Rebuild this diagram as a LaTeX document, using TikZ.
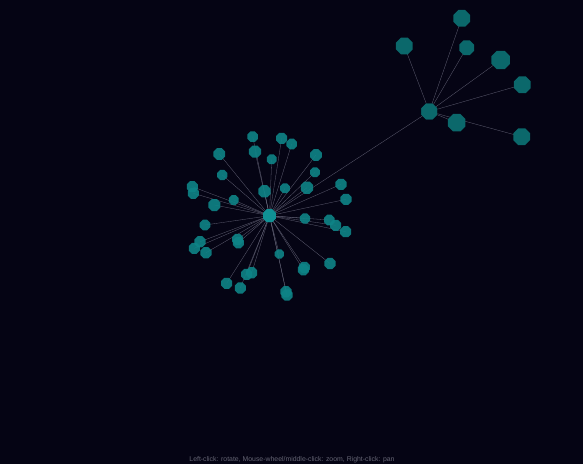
\documentclass[tikz,border=0pt]{standalone}
\usepackage{fontspec}
\setmainfont{Liberation Sans}
\usetikzlibrary{shapes.geometric}
\definecolor{bg}{RGB}{5,4,20}
\definecolor{nodeA}{RGB}{14,132,135}
\definecolor{nodeB}{RGB}{11,104,107}
\definecolor{hubA}{RGB}{16,145,148}
\definecolor{edgec}{RGB}{120,120,140}
\definecolor{txt}{RGB}{100,100,115}
\tikzset{
  vert/.style={regular polygon, regular polygon sides=8, inner sep=0pt, draw=none, fill=nodeA, fill opacity=0.9},
  vertB/.style={regular polygon, regular polygon sides=8, inner sep=0pt, draw=none, fill=nodeB},
  link/.style={draw=edgec, line width=0.3pt, opacity=0.8},
  hint/.style={text=txt, font=\fontsize{6.9}{7}\selectfont, inner sep=0pt}
}
\begin{document}
\begin{tikzpicture}[x=1pt,y=-1pt]
\fill[bg] (0,0) rectangle (583,464);
\useasboundingbox (0,0) rectangle (583,464);
% hubs
\node[vert, fill=hubA, minimum size=14pt] (h1) at (269.5,215.7) {};
\node[vertB, minimum size=17pt] (h2) at (429.3,111.5) {};
% cluster nodes
\foreach \n/\x/\y/\r in {
 1/252.7/136.7/5.7, 2/281.7/138.3/6, 3/291.7/144/5.7, 4/219.3/154/6.3,
 5/255/151.7/6.5, 6/271.7/159.3/5.3, 7/316/155/6.3, 8/222.3/175/5.5,
 9/315/172.3/5.3, 10/341/184.3/6, 11/192.3/186.7/6, 12/193.3/193.3/6,
 13/264.5/191.3/6.7, 14/285/188.3/5.3, 15/307/187.7/6.7, 16/346/199.3/6,
 17/214.3/205/6.5, 18/233.7/200/5.3, 19/305/218.5/5.5, 20/329.3/220/5.7,
 21/335.7/225.3/6, 22/345.7/231.7/6, 23/205/225/5.7, 24/200/241.7/6,
 25/194.3/248.3/6, 26/206/252.7/6, 27/237.7/239.3/6, 28/238.3/242.7/6,
 29/279.3/254/5, 30/330/263.5/6, 31/304.3/267.3/6, 32/303.3/269.7/6,
 33/251.7/272.7/6, 34/246.7/274.3/6, 35/226.7/283.3/6, 36/240.3/288/6,
 37/286/291.7/6, 38/287/295/6}{
  \coordinate (p\n) at (\x,\y);
  \draw[link] (h1) -- (p\n);
}
\draw[link] (h1) -- (h2);
% right nodes
\foreach \n/\x/\y/\r in {
 1/461.7/18.3/9, 2/404.3/46/9, 3/466.7/47.7/8, 4/500.7/60/10,
 5/522.3/84.7/9, 6/456.7/122.7/9.5, 7/521.7/136.7/9}{
  \coordinate (q\n) at (\x,\y);
  \draw[link] (h2) -- (q\n);
}
\foreach \n/\x/\y/\r in {
 1/252.7/136.7/5.7, 2/281.7/138.3/6, 3/291.7/144/5.7, 4/219.3/154/6.3,
 5/255/151.7/6.5, 6/271.7/159.3/5.3, 7/316/155/6.3, 8/222.3/175/5.5,
 9/315/172.3/5.3, 10/341/184.3/6, 11/192.3/186.7/6, 12/193.3/193.3/6,
 13/264.5/191.3/6.7, 14/285/188.3/5.3, 15/307/187.7/6.7, 16/346/199.3/6,
 17/214.3/205/6.5, 18/233.7/200/5.3, 19/305/218.5/5.5, 20/329.3/220/5.7,
 21/335.7/225.3/6, 22/345.7/231.7/6, 23/205/225/5.7, 24/200/241.7/6,
 25/194.3/248.3/6, 26/206/252.7/6, 27/237.7/239.3/6, 28/238.3/242.7/6,
 29/279.3/254/5, 30/330/263.5/6, 31/304.3/267.3/6, 32/303.3/269.7/6,
 33/251.7/272.7/6, 34/246.7/274.3/6, 35/226.7/283.3/6, 36/240.3/288/6,
 37/286/291.7/6, 38/287/295/6}{
  \node[vert, minimum size=2*\r pt] (c\n) at (p\n) {};
}
\node[vert, fill=hubA, fill opacity=1, minimum size=14pt] at (h1) {};
\node[vertB, minimum size=17pt] at (h2) {};
\foreach \n/\x/\y/\r in {
 1/461.7/18.3/9, 2/404.3/46/9, 3/466.7/47.7/8, 4/500.7/60/10,
 5/522.3/84.7/9, 6/456.7/122.7/9.5, 7/521.7/136.7/9}{
  \node[vertB, minimum size=2*\r pt] (r\n) at (q\n) {};
}
\node[hint] (help) at (292,460) {Left-click: rotate, Mouse-wheel/middle-click: zoom, Right-click: pan};
\end{tikzpicture}
\end{document}
